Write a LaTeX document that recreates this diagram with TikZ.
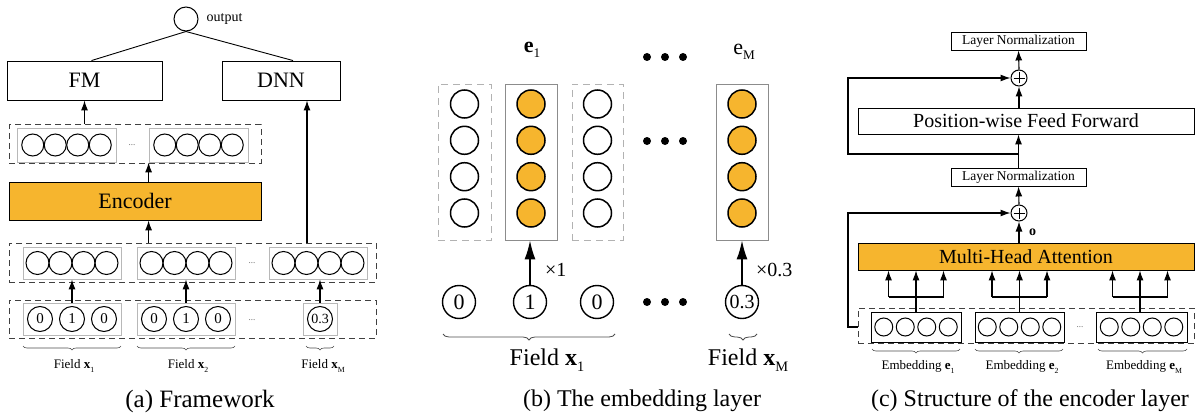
\documentclass[tikz,border=0pt]{standalone}
\usepackage{fontspec}
\setmainfont{Liberation Serif}
\usepackage{graphicx}
\usetikzlibrary{arrows.meta,decorations.pathreplacing}
\definecolor{encorange}{RGB}{246,181,46}
\newcommand\fsz[1]{\fontsize{#1}{#1}\selectfont}
\newcommand\lsub[1]{\raisebox{-0.55ex}{\scalebox{0.6}{#1}}}
\begin{document}
\begin{tikzpicture}[x=1pt,y=-1pt,
 box/.style={draw, line width=0.9pt, inner sep=0pt, rectangle},
 gbox/.style={draw=black!28, line width=0.8pt, inner sep=0pt, rectangle},
 dbox/.style={draw=black!75, dash pattern=on 6pt off 4pt, line width=1pt, inner sep=0pt, rectangle},
 gdash/.style={draw=black!30, dash pattern=on 7pt off 5pt, line width=0.9pt, inner sep=0pt, rectangle},
 cir/.style={circle, draw, line width=1pt, inner sep=0pt},
 arr/.style={-{Latex[length=10pt,width=7pt]}, line width=1.1pt},
 barr/.style={-{Latex[length=19pt,width=11pt]}, line width=1.6pt},
 brc/.style={decorate, decoration={brace, mirror, amplitude=4pt}, line width=0.6pt, draw=black!70},
 bbrc/.style={decorate, decoration={brace, mirror, amplitude=6pt}, line width=0.8pt, draw=black!70},
 lbl/.style={inner sep=0pt, font=\fsz{13}},
 dots/.style={inner sep=0pt, font=\fsz{9}, text=black!60},
]
\useasboundingbox (0,0) rectangle (1201,417);

%% ---------------- Panel (a) ----------------
\node[cir, minimum size=24pt] (out) at (186,19) {};
\node[anchor=west, inner sep=0pt, font=\fsz{14}] (outl) at ([xshift=8pt]out.east) {output};
\node[box, minimum width=155pt, minimum height=39pt, font=\fsz{22}] (fm) at (84.5,80.5) {FM};
\node[box, minimum width=118pt, minimum height=39pt, font=\fsz{22}] (dnn) at (281,80.5) {DNN};
\draw[line width=0.9pt] (out.south) -- ([xshift=7pt]fm.north);
\draw[line width=0.9pt] (out.south) -- ([xshift=12pt]dnn.north);

% encoder output layer
\node[dbox, minimum width=252pt, minimum height=38pt] (tdash) at (135,144) {};
\node[gbox, minimum width=99pt, minimum height=34pt] (tg1) at (66.5,145) {};
\node[gbox, minimum width=99pt, minimum height=34pt] (tg2) at (198.5,145) {};
\foreach \b/\cx in {1/66.5,2/198.5}{
  \foreach \i/\dx in {1/-33.75,2/-11.25,3/11.25,4/33.75}{
    \node[cir, minimum size=22pt] (t\b\i) at ({\cx+\dx},145) {};
  }
}
\node[dots] (tdots) at (132,145) {...};

% encoder
\node[box, fill=encorange, minimum width=252pt, minimum height=38pt, font=\fsz{22}] (enc) at (135,201) {Encoder};

% embedding layer
\node[dbox, minimum width=367pt, minimum height=39pt] (mdash) at (192.5,262.5) {};
\node[gbox, minimum width=98pt, minimum height=32pt] (mg1) at (72,263) {};
\node[gbox, minimum width=98pt, minimum height=32pt] (mg2) at (186,263) {};
\node[gbox, minimum width=98pt, minimum height=32pt] (mg3) at (318,263) {};
\foreach \b/\cx in {1/72,2/186,3/318}{
  \foreach \i/\dx in {1/-34.5,2/-11.5,3/11.5,4/34.5}{
    \node[cir, minimum size=23pt] (m\b\i) at ({\cx+\dx},263) {};
  }
}
\node[dots] (mdots) at (252,263) {...};

% input layer
\node[dbox, minimum width=367pt, minimum height=38pt] (ldash) at (192.5,319) {};
\node[gbox, minimum width=98pt, minimum height=32pt] (lg1) at (72,319) {};
\node[gbox, minimum width=98pt, minimum height=32pt] (lg2) at (186,319) {};
\node[gbox, minimum width=34pt, minimum height=32pt] (lg3) at (320,319) {};
\foreach \b/\cx in {1/72,2/186}{
  \node[cir, minimum size=25pt, font=\fsz{15}] (l\b1) at ({\cx-32},319) {0};
  \node[cir, minimum size=25pt, font=\fsz{15}] (l\b2) at (\cx,319) {1};
  \node[cir, minimum size=25pt, font=\fsz{15}] (l\b3) at ({\cx+32},319) {0};
}
\node[cir, minimum size=25pt, font=\fsz{14}] (l31) at (320,319) {0.3};
\node[dots] (ldots) at (252,320) {...};

% arrows (a)
\draw[arr] (fm.south |- tdash.north) -- (fm.south);
\draw[arr] (enc.north -| tg2.west) -- (tg2.south west);
\draw[arr] (mdash.north -| tg2.west) -- (enc.south -| tg2.west);
\draw[arr] (mdash.north -| 307,0) -- (dnn.south -| 307,0);
\draw[arr] (lg1.north) -- (mg1.south);
\draw[arr] (lg2.north) -- (mg2.south);
\draw[arr] (lg3.north) -- (lg3.north |- mg3.south);

% braces (a)
\coordinate (ba1) at (23,346);  \coordinate (ba2) at (121,346);
\coordinate (bb1) at (137,346); \coordinate (bb2) at (235,346);
\coordinate (bc1) at (306,346); \coordinate (bc2) at (334,346);
\draw[brc] (ba1) -- (ba2);
\draw[brc] (bb1) -- (bb2);
\draw[brc] (bc1) -- (bc2);
\node[lbl] (fx1) at (74,366) {Field \textbf{x}\lsub{1}};
\node[lbl] (fx2) at (188,366) {Field \textbf{x}\lsub{2}};
\node[lbl] (fxm) at (323,366) {Field \textbf{x}\lsub{M}};

\node[inner sep=0pt, font=\fsz{25}] (capa) at (200,401) {(a) Framework};

%% ---------------- Panel (b) ----------------
\node[gdash, minimum width=53pt, minimum height=156pt] (c1) at (464.5,162) {};
\node[gbox, draw=black!45, minimum width=52pt, minimum height=156pt] (c2) at (531,162) {};
\node[gdash, minimum width=51pt, minimum height=156pt] (c3) at (597.5,162) {};
\node[gbox, draw=black!45, minimum width=52pt, minimum height=156pt] (cM) at (742,162) {};
\foreach \j/\cy in {1/104,2/140.3,3/176.7,4/213}{
  \node[cir, line width=1.5pt, minimum size=28pt] (c1\j) at (464.5,\cy) {};
  \node[cir, line width=1.5pt, fill=encorange, minimum size=28pt] (c2\j) at (531,\cy) {};
  \node[cir, line width=1.5pt, minimum size=28pt] (c3\j) at (597.5,\cy) {};
  \node[cir, line width=1.5pt, fill=encorange, minimum size=28pt] (cM\j) at (742,\cy) {};
}
\foreach \y in {57,141,302}{
  \foreach \x in {647,665,683}{
    \fill (\x,\y) circle (4pt);
  }
}
\node[inner sep=0pt, font=\fsz{22}] (e1) at (532,50) {\textbf{e}\lsub{1}};
\node[inner sep=0pt, font=\fsz{22}] (eM) at (744,52) {e\lsub{M}};

\node[cir, line width=1.4pt, minimum size=33pt, font=\fsz{22}] (b1) at (459,302) {0};
\node[cir, line width=1.4pt, minimum size=33pt, font=\fsz{22}] (b2) at (530,302) {1};
\node[cir, line width=1.4pt, minimum size=33pt, font=\fsz{22}] (b3) at (597,302) {0};
\node[cir, line width=1.4pt, minimum size=33pt, font=\fsz{20}] (bM) at (742,302) {0.3};
\draw[barr] (b2.north) -- (b2.north |- c2.south);
\draw[barr] (bM.north) -- (cM.south);
\node[anchor=west, inner sep=0pt, font=\fsz{20}] (x1) at (545,270) {×1};
\node[anchor=west, inner sep=0pt, font=\fsz{20}] (x03) at (756,270) {×0.3};
\coordinate (bd1) at (443,334); \coordinate (bd2) at (615,334);
\coordinate (be1) at (729,334); \coordinate (be2) at (757,334);
\draw[bbrc] (bd1) -- (bd2);
\draw[bbrc] (be1) -- (be2);
\node[inner sep=0pt, font=\fsz{24}] (fb1) at (547,360) {Field \textbf{x}\lsub{1}};
\node[inner sep=0pt, font=\fsz{24}] (fbm) at (748,360) {Field \textbf{x}\lsub{M}};

\node[inner sep=0pt, font=\fsz{24}] (capb) at (642,401) {(b) The embedding layer};

%% ---------------- Panel (c) ----------------
\node[box, minimum width=135pt, minimum height=18pt, font=\fsz{13.5}] (ln1) at (1018.5,41) {Layer Normalization};
\node[cir, minimum size=16pt] (p1) at (1019,78) {};
\node[box, minimum width=336pt, minimum height=26pt, font=\fsz{20}] (pff) at (1026,121) {Position-wise Feed Forward};
\node[box, minimum width=135pt, minimum height=18pt, font=\fsz{13.5}] (ln2) at (1018.5,177) {Layer Normalization};
\node[cir, minimum size=16pt] (p2) at (1019,213) {};
\node[box, fill=encorange, minimum width=336pt, minimum height=27pt, font=\fsz{20}] (mha) at (1026,256.5) {Multi-Head Attention};
\foreach \p in {p1,p2}{
  \draw[line width=0.7pt] ([yshift=-5.5pt]\p.center) -- ([yshift=5.5pt]\p.center);
  \draw[line width=0.7pt] ([xshift=-5.5pt]\p.center) -- ([xshift=5.5pt]\p.center);
}
\node[dbox, minimum width=336pt, minimum height=35pt] (cdash) at (1026,325.5) {};
\node[box, minimum width=90pt, minimum height=30pt] (eb1) at (916,327) {};
\node[box, minimum width=89pt, minimum height=30pt] (eb2) at (1019.5,327) {};
\node[box, minimum width=91pt, minimum height=30pt] (eb3) at (1141.5,327) {};
\foreach \b/\cx in {1/916,2/1019.5,3/1141.5}{
  \foreach \i/\dx in {1/-32.25,2/-10.75,3/10.75,4/32.25}{
    \node[cir, minimum size=18pt] (ec\b\i) at ({\cx+\dx},327) {};
  }
}
\node[dots] (cdots) at (1080,327) {...};

% prongs
\foreach \b/\cx in {1/916,2/1019.5,3/1140}{
  \coordinate (j\b) at (\cx,297);
  \draw[line width=1.1pt] (eb\b.north -| j\b) -- (j\b);
  \draw[line width=1.1pt] ([xshift=-27.5pt]j\b) -- ([xshift=27.5pt]j\b);
  \draw[arr] ([xshift=-27.5pt]j\b) -- ([xshift=-27.5pt]j\b |- mha.south);
  \draw[arr] (j\b) -- (j\b |- mha.south);
  \draw[arr] ([xshift=27.5pt]j\b) -- ([xshift=27.5pt]j\b |- mha.south);
}

% arrows (c)
\draw[arr] (mha.north -| p2) -- (p2.south);
\node[anchor=west, inner sep=0pt, font=\fsz{14}\bfseries] (olab) at (1029,232) {o};
\draw[arr] (p2.north) -- (ln2.south);
\draw[arr] (ln2.north) -- (pff.south -| ln2.north);
\draw[arr] (pff.north -| p1) -- (p1.south);
\draw[arr] (p1.north) -- (ln1.south);
\coordinate (sk1) at (1019,154);
\coordinate (sk1l) at (848,154);
\draw[arr] (sk1) -- (sk1l) |- (p1.west);
\coordinate (sk2l) at (848,327);
\draw[arr] (cdash.west |- sk2l) -- (sk2l) |- (p2.west);

% braces (c)
\coordinate (bf1) at (872,349); \coordinate (bf2) at (960,349);
\coordinate (bg1) at (975,349); \coordinate (bg2) at (1063,349);
\coordinate (bh1) at (1098,349); \coordinate (bh2) at (1187,349);
\draw[brc] (bf1) -- (bf2);
\draw[brc] (bg1) -- (bg2);
\draw[brc] (bh1) -- (bh2);
\node[lbl] (em1) at (918,367) {Embedding \textbf{e}\lsub{1}};
\node[lbl] (em2) at (1022,367) {Embedding \textbf{e}\lsub{2}};
\node[lbl] (emm) at (1144,367) {Embedding \textbf{e}\lsub{M}};

\node[inner sep=0pt, font=\fsz{24}] (capc) at (1030,401) {(c) Structure of the encoder layer};
\end{tikzpicture}
\end{document}
